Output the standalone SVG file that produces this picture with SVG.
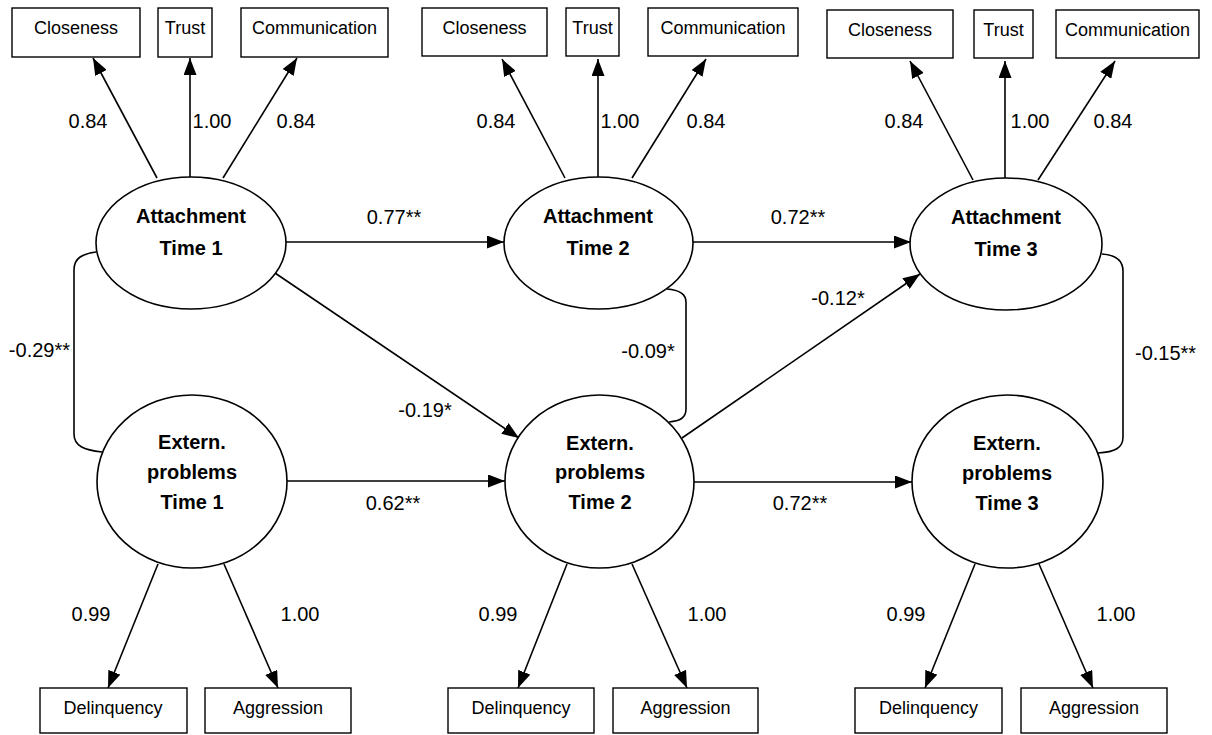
<svg xmlns="http://www.w3.org/2000/svg" width="1212" height="735" viewBox="0 0 1212 735">
<style>
.box{fill:#fff;stroke:#000;stroke-width:1.4}
.lat{fill:#fff;stroke:#000;stroke-width:1.6}
.ln{fill:none;stroke:#000;stroke-width:1.6}
.arr{marker-end:url(#ah)}
.bt{font-family:"Liberation Sans",Arial,sans-serif;font-size:18px;text-anchor:middle;fill:#000}
.lt{font-family:"Liberation Sans",Arial,sans-serif;font-size:20px;font-weight:bold;text-anchor:middle;fill:#000}
.nt{font-family:"Liberation Sans",Arial,sans-serif;font-size:20px;text-anchor:middle;fill:#000}
</style>
<defs>
<marker id="ah" viewBox="0 0 17 13" refX="17" refY="6.5" markerWidth="17" markerHeight="13" markerUnits="userSpaceOnUse" orient="auto">
<path d="M0,0 L17,6.5 L0,13 z" fill="#000"/>
</marker>
</defs>
<rect width="1212" height="735" fill="#fff"/>

<g id="connectors">
<line class="ln arr" x1="157" y1="178" x2="93" y2="58"/>
<line class="ln arr" x1="190" y1="177" x2="190" y2="58"/>
<line class="ln arr" x1="223" y1="178" x2="297" y2="58"/>
<line class="ln arr" x1="565" y1="178" x2="502" y2="59"/>
<line class="ln arr" x1="598" y1="177" x2="598" y2="59"/>
<line class="ln arr" x1="632" y1="178" x2="706" y2="59"/>
<line class="ln arr" x1="973" y1="180" x2="910" y2="61"/>
<line class="ln arr" x1="1005" y1="178" x2="1005" y2="61"/>
<line class="ln arr" x1="1038" y1="180" x2="1115" y2="61"/>
<line class="ln arr" x1="158" y1="564" x2="108" y2="688"/>
<line class="ln arr" x1="224" y1="564" x2="278" y2="688"/>
<line class="ln arr" x1="567" y1="564" x2="518" y2="688"/>
<line class="ln arr" x1="632" y1="564" x2="687" y2="688"/>
<line class="ln arr" x1="975" y1="564" x2="925" y2="688"/>
<line class="ln arr" x1="1039" y1="564" x2="1093" y2="688"/>
<line class="ln arr" x1="286" y1="242" x2="504" y2="242"/>
<line class="ln arr" x1="693" y1="242" x2="911" y2="242"/>
<line class="ln arr" x1="287" y1="481" x2="505" y2="481"/>
<line class="ln arr" x1="694" y1="482" x2="912" y2="482"/>
<line class="ln arr" x1="275" y1="273" x2="519" y2="438"/>
<line class="ln arr" x1="682" y1="438" x2="920" y2="274"/>
<path class="ln" d="M96,252 C82,254 74,258 74,270 L74,434 C74,446 84,450 102,452"/>
<path class="ln" d="M667,289 C680,290 686,294 686,302 L686,409 C686,418 680,421 669,422"/>
<path class="ln" d="M1102,254 C1116,255 1123,260 1123,271 L1123,437 C1123,448 1115,452 1098,453"/>
<text class="nt" x="88" y="128">0.84</text>
<text class="nt" x="212" y="128">1.00</text>
<text class="nt" x="296" y="128">0.84</text>
<text class="nt" x="496" y="128">0.84</text>
<text class="nt" x="620" y="128">1.00</text>
<text class="nt" x="706" y="128">0.84</text>
<text class="nt" x="904" y="128">0.84</text>
<text class="nt" x="1030" y="128">1.00</text>
<text class="nt" x="1113" y="128">0.84</text>
<text class="nt" x="91" y="621">0.99</text>
<text class="nt" x="300" y="621">1.00</text>
<text class="nt" x="498" y="621">0.99</text>
<text class="nt" x="707" y="621">1.00</text>
<text class="nt" x="906" y="621">0.99</text>
<text class="nt" x="1116" y="621">1.00</text>
<text class="nt" x="394" y="224">0.77**</text>
<text class="nt" x="798" y="224">0.72**</text>
<text class="nt" x="393" y="510">0.62**</text>
<text class="nt" x="800" y="510">0.72**</text>
<text class="nt" x="425" y="417">-0.19*</text>
<text class="nt" x="838" y="305">-0.12*</text>
<text class="nt" x="648" y="358">-0.09*</text>
<text class="nt" x="70" y="357" style="text-anchor:end">-0.29**</text>
<text class="nt" x="1135" y="360" style="text-anchor:start">-0.15**</text>
</g>

<g id="closeness1"><rect class="box" x="12" y="8" width="128" height="49"/><text class="bt" x="76" y="34">Closeness</text></g>
<g id="trust1"><rect class="box" x="158" y="8" width="54" height="49"/><text class="bt" x="185" y="34">Trust</text></g>
<g id="communication1"><rect class="box" x="241" y="8" width="147" height="49"/><text class="bt" x="314.5" y="34">Communication</text></g>
<g id="closeness2"><rect class="box" x="422" y="8" width="125" height="48"/><text class="bt" x="484.5" y="34">Closeness</text></g>
<g id="trust2"><rect class="box" x="566" y="8" width="53" height="48"/><text class="bt" x="592.5" y="34">Trust</text></g>
<g id="communication2"><rect class="box" x="648" y="8" width="150" height="48"/><text class="bt" x="723" y="34">Communication</text></g>
<g id="closeness3"><rect class="box" x="827" y="10" width="126" height="48"/><text class="bt" x="890" y="36">Closeness</text></g>
<g id="trust3"><rect class="box" x="974" y="10" width="59" height="48"/><text class="bt" x="1003.5" y="36">Trust</text></g>
<g id="communication3"><rect class="box" x="1056" y="10" width="143" height="48"/><text class="bt" x="1127.5" y="36">Communication</text></g>

<g id="attachment1"><ellipse class="lat" cx="191" cy="243" rx="95" ry="66"/><text class="lt" x="191" y="223">Attachment</text><text class="lt" x="191" y="255">Time 1</text></g>
<g id="attachment2"><ellipse class="lat" cx="598.5" cy="243" rx="94.5" ry="66"/><text class="lt" x="598" y="223">Attachment</text><text class="lt" x="598" y="255">Time 2</text></g>
<g id="attachment3"><ellipse class="lat" cx="1006" cy="244" rx="96" ry="66"/><text class="lt" x="1006" y="224">Attachment</text><text class="lt" x="1006" y="256">Time 3</text></g>

<g id="extern1"><ellipse class="lat" cx="192" cy="481.5" rx="95" ry="86.5"/><text class="lt" x="192" y="449">Extern.</text><text class="lt" x="192" y="479">problems</text><text class="lt" x="192" y="509">Time 1</text></g>
<g id="extern2"><ellipse class="lat" cx="599.5" cy="481.5" rx="94.5" ry="86.5"/><text class="lt" x="600" y="450">Extern.</text><text class="lt" x="600" y="479">problems</text><text class="lt" x="600" y="509">Time 2</text></g>
<g id="extern3"><ellipse class="lat" cx="1007.5" cy="481.5" rx="95.5" ry="86.5"/><text class="lt" x="1007" y="450">Extern.</text><text class="lt" x="1007" y="480">problems</text><text class="lt" x="1007" y="510">Time 3</text></g>

<g id="delinquency1"><rect class="box" x="40" y="688" width="147" height="45"/><text class="bt" x="113" y="714">Delinquency</text></g>
<g id="aggression1"><rect class="box" x="205" y="688" width="146" height="45"/><text class="bt" x="278" y="714">Aggression</text></g>
<g id="delinquency2"><rect class="box" x="448" y="688" width="146" height="45"/><text class="bt" x="521" y="714">Delinquency</text></g>
<g id="aggression2"><rect class="box" x="613" y="688" width="145" height="45"/><text class="bt" x="685.5" y="714">Aggression</text></g>
<g id="delinquency3"><rect class="box" x="855" y="688" width="147" height="45"/><text class="bt" x="928.5" y="714">Delinquency</text></g>
<g id="aggression3"><rect class="box" x="1021" y="688" width="146" height="45"/><text class="bt" x="1094" y="714">Aggression</text></g>
</svg>
